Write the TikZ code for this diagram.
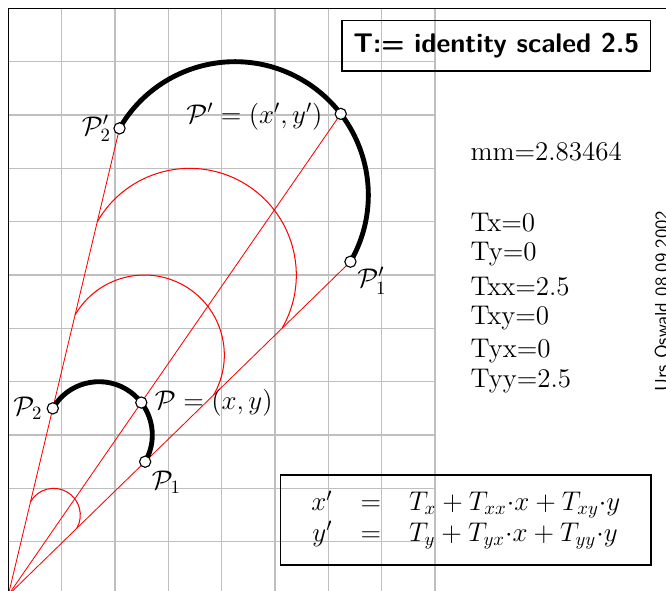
\documentclass[tikz,border=0pt]{standalone}
\usetikzlibrary{calc}
\begin{document}
\begin{tikzpicture}[x=1cm,y=1cm,
  gridline/.style={draw=black!25, line width=0.8pt},
  frameline/.style={draw=black, line width=0.8pt},
  rayline/.style={draw=red, line width=0.45pt},
  redarc/.style={draw=red, line width=0.55pt},
  blackarc/.style={draw=black, line width=2.6pt},
  pt/.style={circle, draw=black, fill=white, line width=0.6pt, inner sep=0pt, minimum size=6pt},
  lbl/.style={inner sep=0pt, font=\Large},
  txt/.style={inner sep=0pt, anchor=base west, font=\Large},
  boxed/.style={draw=black, line width=0.8pt, inner sep=0pt}
]
\useasboundingbox (-0.156,0.094) rectangle (12.332,11.157);
\clip (-0.156,0.094) rectangle (12.332,11.157);
% grid and frame
\draw[gridline] (0,0) grid (8,11);
\draw[frameline] (0,0) -- (0,11) -- (12.4,11);
% points
\coordinate (O) at (0,0);
\coordinate (P2c) at (0.834,3.5);
\coordinate (Pc) at (2.4934,3.6088);
\coordinate (P1c) at (2.566,2.5);
\coordinate (Pa2c) at (2.085,8.75);
\coordinate (Pac) at (6.2335,9.022);
\coordinate (Pa1c) at (6.415,6.25);
% rays
\draw[rayline] (O) -- (Pa2c);
\draw[rayline] (O) -- (Pac);
\draw[rayline] (O) -- (Pa1c);
% red arcs
\draw[redarc] ($0.5*(P2c)$) arc[start angle=150, end angle=-30, radius=0.5];
\draw[redarc] ($1.5*(P2c)$) arc[start angle=150, end angle=-30, radius=1.5];
\draw[redarc] ($2*(P2c)$) arc[start angle=150, end angle=-30, radius=2];
% black arcs
\draw[blackarc] (P2c) arc[start angle=150, end angle=-30, radius=1];
\draw[blackarc] (Pa2c) arc[start angle=150, end angle=-30, radius=2.5];
% point markers
\node[pt] (P2) at (P2c) {};
\node[pt] (P) at (Pc) {};
\node[pt] (P1) at (P1c) {};
\node[pt] (Pa2) at (Pa2c) {};
\node[pt] (Pa) at (Pac) {};
\node[pt] (Pa1) at (Pa1c) {};
% labels
\node[lbl, anchor=east] (lP2) at ([xshift=-5.3pt]P2.center) {$\mathcal{P}_2$};
\node[lbl, anchor=west] (lP) at ([xshift=7pt]P.center) {$\mathcal{P}=(x,y)$};
\node[lbl, anchor=north west] (lP1) at ([xshift=3.4pt,yshift=-4.8pt]P1.center) {$\mathcal{P}_1$};
\node[lbl, anchor=east] (lPa2) at ([xshift=-4.4pt]Pa2.center) {$\mathcal{P}'_2$};
\node[lbl, anchor=east] (lPa) at ([xshift=-9.6pt,yshift=-1.5pt]Pa.center) {$\mathcal{P}'=(x',y')$};
\node[lbl, anchor=north west] (lPa1) at ([xshift=3.5pt,yshift=-2.7pt]Pa1.center) {$\mathcal{P}'_1$};
% title
\node[boxed, minimum width=5.79cm, minimum height=0.94cm, font=\Large\sffamily\bfseries] (title) at (9.15,10.30) {T:= identity scaled 2.5};
% parameters
\node[txt] (mm) at (8.66,8.14) {mm=2.83464};
\node[txt] (tx) at (8.66,6.825) {Tx=0};
\node[txt] (ty) at (8.66,6.28) {Ty=0};
\node[txt] (txx) at (8.66,5.625) {Txx=2.5};
\node[txt] (txy) at (8.66,5.08) {Txy=0};
\node[txt] (tyx) at (8.66,4.46) {Tyx=0};
\node[txt] (tyy) at (8.66,3.90) {Tyy=2.5};
% signature
\node[rotate=90, anchor=base west, inner sep=0pt, font=\sffamily] (sig) at (12.37,3.806) {Urs Oswald 08.09.2002};
% equations
\node[boxed, minimum width=6.95cm, minimum height=1.6875cm, font=\Large] (eq) at (8.577,1.406)
 {$\def\arraystretch{0.9}\arraycolsep=7.5pt
 \begin{array}{rcl}
 x' &=& T_x+T_{xx}{\cdot}x+T_{xy}{\cdot}y\\
 y' &=& T_y+T_{yx}{\cdot}x+T_{yy}{\cdot}y
 \end{array}$};
\end{tikzpicture}
\end{document}
